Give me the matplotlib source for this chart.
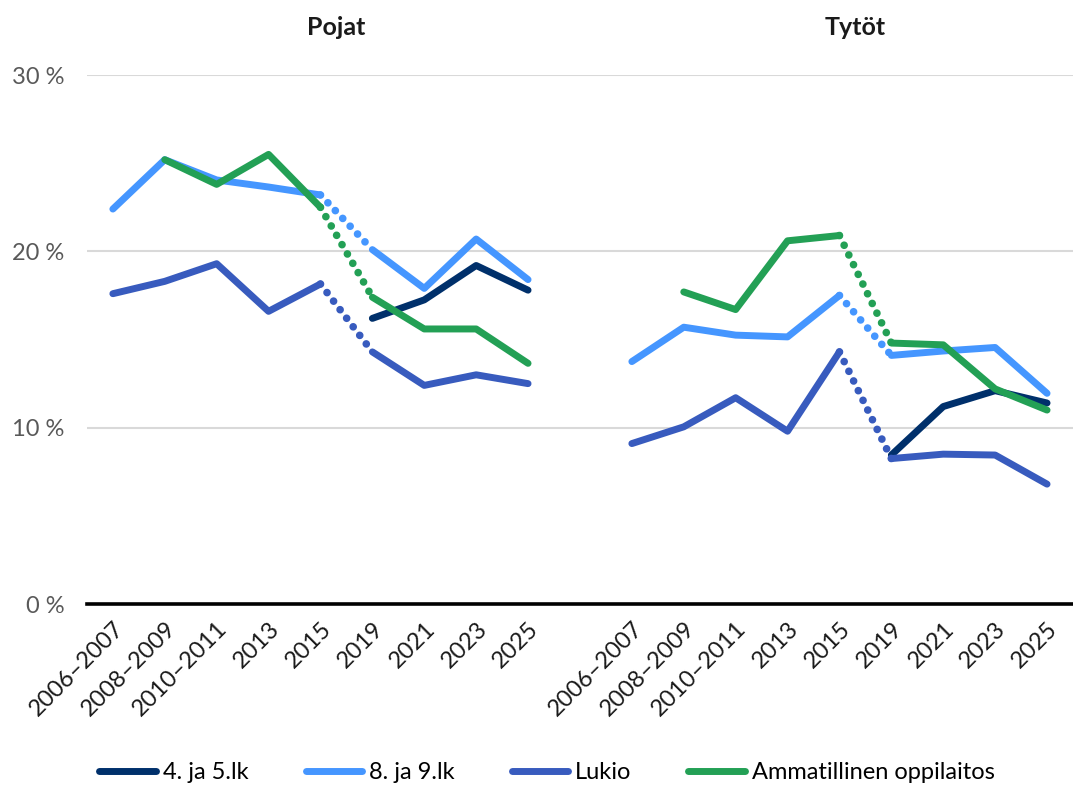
import numpy as np
import matplotlib
matplotlib.use('Agg')
import matplotlib.pyplot as plt
from matplotlib.lines import Line2D

plt.rcParams['font.family'] = ['Lato', 'DejaVu Sans']

nan = np.nan
categories = ['2006–2007', '2008–2009', '2010–2011', '2013', '2015', '2019', '2021', '2023', '2025']
groups = ['Pojat', 'Tytöt']
series_names = ['4. ja 5.lk', '8. ja 9.lk', 'Lukio', 'Ammatillinen oppilaitos']

# values in %
pojat_45 = [nan, nan, nan, nan, nan, 16.2, 17.25, 19.2, 17.8]
pojat_89 = [22.4, 25.2, 24.05, 23.65, 23.2, 20.1, 17.9, 20.7, 18.4]
pojat_lukio = [17.6, 18.3, 19.3, 16.6, 18.15, 14.3, 12.4, 13.0, 12.5]
pojat_amm = [nan, 25.2, 23.8, 25.5, 22.5, 17.4, 15.6, 15.6, 13.65]

tytot_45 = [nan, nan, nan, nan, nan, 8.45, 11.2, 12.1, 11.4]
tytot_89 = [13.75, 15.7, 15.25, 15.15, 17.5, 14.1, 14.35, 14.55, 11.95]
tytot_lukio = [9.1, 10.05, 11.7, 9.8, 14.3, 8.25, 8.5, 8.45, 6.8]
tytot_amm = [nan, 17.7, 16.7, 20.6, 20.9, 14.8, 14.7, 12.2, 11.0]

colors = ['#00306B', '#4596FF', '#385BBE', '#23A055']
lw = 5.0

fig = plt.figure(figsize=(10.73, 7.9), dpi=100)
ax = fig.add_axes([0.081, 0.2354, 0.919, 0.6696])

group_data = [
    [pojat_45, pojat_89, pojat_lukio, pojat_amm],
    [tytot_45, tytot_89, tytot_lukio, tytot_amm],
]

n = len(categories)
break_idx = 4  # dotted between 2015 and 2019
for g, data in enumerate(group_data):
    x = np.arange(n) + g * (n + 1)
    for vals, color in zip(data, colors):
        v = np.array(vals, dtype=float)
        kw = dict(color=color, lw=lw, solid_capstyle='round', solid_joinstyle='round')
        ax.plot(x[:break_idx + 1], v[:break_idx + 1], **kw)
        ax.plot(x[break_idx + 1:], v[break_idx + 1:], **kw)
        ax.plot(x[break_idx:break_idx + 2], v[break_idx:break_idx + 2], color=color,
                lw=lw + 0.5, linestyle=(0, (0.01, 1.4)), dash_capstyle='round')

xt = list(np.arange(n)) + list(np.arange(n) + n + 1)
ax.set_xticks(xt)
ax.set_xticklabels(categories * 2, rotation=45, ha='right', rotation_mode='anchor',
                   fontsize=17, color='#1a1a1a')
ax.tick_params(axis='x', length=0, pad=10)
ax.set_xlim(-0.5, 2 * n + 0.5)

ax.set_ylim(0, 30)
ax.set_yticks([0, 10, 20, 30])
ax.set_yticklabels(['0\u00a0%', '10\u00a0%', '20\u00a0%', '30\u00a0%'], fontsize=17, color='#595959')
ax.tick_params(axis='y', length=0, pad=16)
ax.yaxis.grid(True, color='#d9d9d9', lw=1.5)
ax.set_axisbelow(True)
for s in ['top', 'right', 'left']:
    ax.spines[s].set_visible(False)
ax.spines['bottom'].set_color('black')
ax.spines['bottom'].set_linewidth(2.6)
ax.spines['bottom'].set_zorder(5)

for g, name in enumerate(groups):
    cx = (n - 1) / 2 + 0.3 + g * (n + 1)
    ax.text(cx, 1.09, name, transform=ax.get_xaxis_transform(), ha='center', va='center',
            fontsize=18, fontweight='bold', color='#1a1a1a')

handles = [Line2D([0], [0], color=c, lw=lw, solid_capstyle='round') for c in colors]
fig.legend(handles, series_names, loc='center', bbox_to_anchor=(0.51, 0.022), ncol=4,
           frameon=False, fontsize=17, handlelength=2.4, handletextpad=0.3, columnspacing=2.4)

fig.savefig('out.png', dpi=100)
